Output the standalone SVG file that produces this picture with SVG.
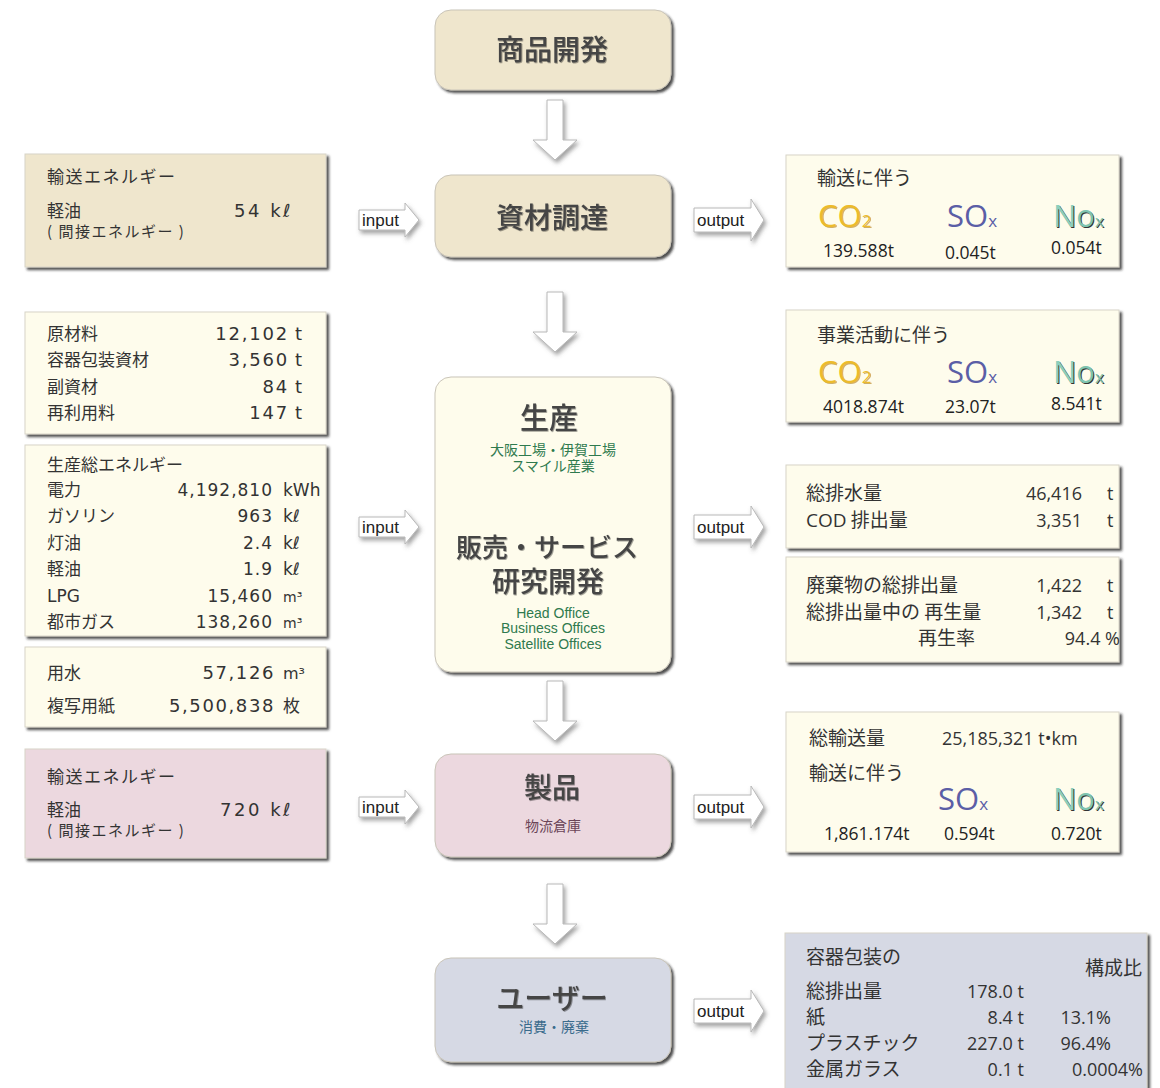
<svg xmlns="http://www.w3.org/2000/svg" xmlns:xlink="http://www.w3.org/1999/xlink" width="1160" height="1088" viewBox="0 0 1160 1088">
<defs>
<filter id="sh" x="-5%" y="-5%" width="115%" height="115%">
<feDropShadow dx="2.5" dy="2.5" stdDeviation="1.2" flood-color="#222" flood-opacity="0.8"/>
</filter>
<filter id="ash" x="-20%" y="-20%" width="150%" height="150%">
<feDropShadow dx="2" dy="3" stdDeviation="2" flood-color="#555" flood-opacity="0.55"/>
</filter>
<filter id="tsh" x="-10%" y="-10%" width="130%" height="130%">
<feDropShadow dx="0.8" dy="0.8" stdDeviation="0.6" flood-color="#000" flood-opacity="0.45"/>
</filter>
<path id="down" d="M-8,0 H8 V40 H22 L0,60 L-22,40 H-8 Z"/>
<path id="inArrow" d="M0,-10 H46 V-17 L60,0 L46,17 V10 H0 Z"/>
<path id="outArrow" d="M0,-12 H57 V-21 L70,0 L57,21 V12 H0 Z"/>
</defs>
<style>
.node{stroke:#c9c4b8;stroke-width:1;filter:url(#sh)}
.box{stroke:#d8d4c8;stroke-width:1;filter:url(#sh)}
.beige{fill:#efe6cd}
.cream{fill:#fefcec}
.pink{fill:#ecd8df}
.lav{fill:#d6d9e4}
.arrow{fill:#fff;stroke:#b8b8b8;stroke-width:1;filter:url(#ash)}
.title{font-family:"Noto Sans CJK JP",sans-serif;font-weight:500;fill:#454545;text-anchor:middle;filter:url(#tsh)}
.sub{font-family:"Noto Sans CJK JP","Liberation Sans",sans-serif;font-size:14px;text-anchor:middle}
.en{font-family:"Liberation Sans",Arial,sans-serif;font-size:14px;fill:#2f7a4e;text-anchor:middle}
.lj{font-family:"Noto Sans CJK JP",sans-serif;font-size:17px;fill:#333}
.ln{font-family:"DejaVu Sans","Noto Sans CJK JP",sans-serif;font-size:17px;fill:#333;letter-spacing:1px}
.rj{font-family:"Noto Sans CJK JP",sans-serif;font-size:19px;fill:#333}
.rn{font-family:"Open Sans","Noto Sans CJK JP",sans-serif;font-size:18px;fill:#333}
.rv{font-family:"Open Sans",sans-serif;font-size:17.5px;fill:#222}
.chem{font-family:"Open Sans",sans-serif;font-size:31px}
.lbl{font-family:"Liberation Sans",Arial,sans-serif;font-size:17px;fill:#222}
</style>

<g id="connectors">
<use href="#down" class="arrow" transform="translate(555,100)"/>
<use href="#down" class="arrow" transform="translate(555,292)"/>
<use href="#down" class="arrow" transform="translate(555,681)"/>
<use href="#down" class="arrow" transform="translate(555,884)"/>
<g id="in1"><use href="#inArrow" class="arrow" transform="translate(359,220)"/><text class="lbl" x="362" y="226">input</text></g>
<g id="in2"><use href="#inArrow" class="arrow" transform="translate(359,527)"/><text class="lbl" x="362" y="533">input</text></g>
<g id="in3"><use href="#inArrow" class="arrow" transform="translate(359,807)"/><text class="lbl" x="362" y="813">input</text></g>
<g id="out1"><use href="#outArrow" class="arrow" transform="translate(694,220)"/><text class="lbl" x="697" y="226">output</text></g>
<g id="out2"><use href="#outArrow" class="arrow" transform="translate(694,527)"/><text class="lbl" x="697" y="533">output</text></g>
<g id="out3"><use href="#outArrow" class="arrow" transform="translate(694,807)"/><text class="lbl" x="697" y="813">output</text></g>
<g id="out4"><use href="#outArrow" class="arrow" transform="translate(694,1011)"/><text class="lbl" x="697" y="1017">output</text></g>
</g>

<!-- center nodes -->
<g id="node-shohin">
<rect class="node beige" x="435" y="10" width="236" height="80" rx="16"/>
<text class="title" x="552" y="60" font-size="28">商品開発</text>
</g>
<g id="node-shizai">
<rect class="node beige" x="435" y="175" width="236" height="82" rx="16"/>
<text class="title" x="552" y="228" font-size="28">資材調達</text>
</g>
<g id="node-seisan">
<rect class="node cream" x="435" y="377" width="236" height="295" rx="16"/>
<text class="title" x="549" y="429" font-size="29">生産</text>
<text class="sub" fill="#2f7a4e"><tspan x="553" y="455">大阪工場・伊賀工場</tspan><tspan x="553" y="471">スマイル産業</tspan></text>
<text class="title" font-size="27"><tspan x="547" y="557" font-size="26">販売・サービス</tspan><tspan x="548" y="592" font-size="28">研究開発</tspan></text>
<text class="en"><tspan x="553" y="618">Head Office</tspan><tspan x="553" y="633">Business Offices</tspan><tspan x="553" y="649">Satellite Offices</tspan></text>
</g>
<g id="node-seihin">
<rect class="node pink" x="435" y="754" width="236" height="103" rx="16"/>
<text class="title" x="552" y="798" font-size="28">製品</text>
<text class="sub" x="553" y="831" fill="#6a4457">物流倉庫</text>
</g>
<g id="node-user">
<rect class="node lav" x="435" y="958" width="236" height="104" rx="16"/>
<text class="title" x="552" y="1009" font-size="28">ユーザー</text>
<text class="sub" x="554" y="1032" fill="#3a6b8c">消費・廃棄</text>
</g>

<!-- left input boxes -->
<g id="in-transport1">
<rect class="box beige" x="25" y="154" width="301" height="113"/>
<text class="lj" x="47" y="183" letter-spacing="1.5">輸送エネルギー</text>
<text class="lj"><tspan x="47" y="217">軽油</tspan><tspan x="47" y="237" style="font-size:15px;letter-spacing:1.5px">( 間接エネルギー )</tspan></text>
<text class="ln" x="293" y="217" style="font-size:18px;letter-spacing:2.5px" text-anchor="end">54 kℓ</text>
</g>
<g id="in-materials">
<rect class="box cream" x="25" y="312" width="301" height="122"/>
<text class="lj" x="47" y="340">原材料</text>
<text class="lj" x="47" y="366">容器包装資材</text>
<text class="lj" x="47" y="393">副資材</text>
<text class="lj" x="47" y="419">再利用料</text>
<g class="ln" style="font-size:18px;letter-spacing:1.8px" text-anchor="end">
<text x="289" y="340">12,102</text>
<text x="289" y="366">3,560</text>
<text x="289" y="393">84</text>
<text x="289" y="419">147</text>
</g>
<g class="ln" style="font-size:18px"><text x="295" y="340">t</text><text x="295" y="366">t</text><text x="295" y="393">t</text><text x="295" y="419">t</text></g>
</g>
<g id="in-energy">
<rect class="box cream" x="25" y="445" width="301" height="191"/>
<text class="lj" x="47" y="471">生産総エネルギー</text>
<text class="lj" x="47" y="496">電力</text>
<text class="lj" x="47" y="522">ガソリン</text>
<text class="lj" x="47" y="549">灯油</text>
<text class="lj" x="47" y="575">軽油</text>
<text class="ln" x="47" y="602" style="letter-spacing:0">LPG</text>
<text class="lj" x="47" y="628">都市ガス</text>
<g class="ln" text-anchor="end">
<text x="273" y="496">4,192,810</text>
<text x="273" y="522">963</text>
<text x="273" y="549">2.4</text>
<text x="273" y="575">1.9</text>
<text x="273" y="602">15,460</text>
<text x="273" y="628">138,260</text>
</g>
<g class="ln" style="letter-spacing:0">
<text x="283" y="496">kWh</text>
<text x="283" y="522">kℓ</text>
<text x="283" y="549">kℓ</text>
<text x="283" y="575">kℓ</text>
<text x="283" y="602" style="font-size:14px">m³</text>
<text x="283" y="628" style="font-size:14px">m³</text>
</g>
</g>
<g id="in-water">
<rect class="box cream" x="25" y="647" width="301" height="80"/>
<text class="lj" x="47" y="679">用水</text>
<text class="lj" x="47" y="712">複写用紙</text>
<g class="ln" style="font-size:18px;letter-spacing:1.6px" text-anchor="end">
<text x="275" y="679">57,126</text>
<text x="275" y="712">5,500,838</text>
</g>
<text class="ln" x="283" y="679" style="font-size:16px;letter-spacing:0">m³</text>
<text class="lj" x="283" y="712">枚</text>
</g>
<g id="in-transport2">
<rect class="box pink" x="25" y="749" width="301" height="109"/>
<text class="lj" x="47" y="783" letter-spacing="1.5">輸送エネルギー</text>
<text class="lj"><tspan x="47" y="816">軽油</tspan><tspan x="47" y="836" style="font-size:15px;letter-spacing:1.5px">( 間接エネルギー )</tspan></text>
<text class="ln" x="293" y="816" style="font-size:18px;letter-spacing:2.5px" text-anchor="end">720 kℓ</text>
</g>

<!-- right output boxes -->
<g id="out-transport">
<rect class="box cream" x="786" y="155" width="333" height="112"/>
<text class="rj" x="817" y="185">輸送に伴う</text>
<text class="chem" x="819" y="228" fill="#b07c10" opacity="0.6">CO<tspan font-size="17">2</tspan></text>
<text class="chem" x="818" y="227" fill="#ecbb2c">CO<tspan font-size="17">2</tspan></text>
<text class="chem" x="947" y="227" fill="#5b5ea6">SO<tspan font-size="17">x</tspan></text>
<text class="chem" x="1054" y="228" fill="#333">N<tspan fill="#333">o</tspan><tspan font-size="17" fill="#333">x</tspan></text>
<text class="chem" x="1053" y="227" fill="#8ccfbd">N<tspan fill="#7fc4b0">o</tspan><tspan font-size="17" fill="#7fc4b0">x</tspan></text>
<text class="rv" x="823" y="257">139.588t</text>
<text class="rv" x="945" y="259">0.045t</text>
<text class="rv" x="1051" y="254">0.054t</text>
</g>
<g id="out-business">
<rect class="box cream" x="786" y="310" width="333" height="112"/>
<text class="rj" x="817" y="342">事業活動に伴う</text>
<text class="chem" x="819" y="384" fill="#b07c10" opacity="0.6">CO<tspan font-size="17">2</tspan></text>
<text class="chem" x="818" y="383" fill="#ecbb2c">CO<tspan font-size="17">2</tspan></text>
<text class="chem" x="947" y="383" fill="#5b5ea6">SO<tspan font-size="17">x</tspan></text>
<text class="chem" x="1054" y="384" fill="#333">N<tspan>o</tspan><tspan font-size="17">x</tspan></text>
<text class="chem" x="1053" y="383" fill="#8ccfbd">N<tspan fill="#7fc4b0">o</tspan><tspan font-size="17" fill="#7fc4b0">x</tspan></text>
<text class="rv" x="823" y="413">4018.874t</text>
<text class="rv" x="945" y="413">23.07t</text>
<text class="rv" x="1051" y="410">8.541t</text>
</g>
<g id="out-drain">
<rect class="box cream" x="786" y="465" width="333" height="83"/>
<text class="rj" x="806" y="500">総排水量</text>
<text class="rj" x="806" y="527"><tspan font-family="Open Sans, sans-serif">COD</tspan> 排出量</text>
<g class="rn" text-anchor="end"><text x="1082" y="500">46,416</text><text x="1082" y="527">3,351</text></g>
<g class="rn"><text x="1107" y="500">t</text><text x="1107" y="527">t</text></g>
</g>
<g id="out-waste">
<rect class="box cream" x="786" y="557" width="333" height="105"/>
<text class="rj" x="806" y="592">廃棄物の総排出量</text>
<text class="rj" x="806" y="619">総排出量中の 再生量</text>
<text class="rj" x="918" y="645">再生率</text>
<g class="rn" text-anchor="end"><text x="1082" y="592">1,422</text><text x="1082" y="619">1,342</text><text x="1120" y="645">94.4 %</text></g>
<g class="rn"><text x="1107" y="592">t</text><text x="1107" y="619">t</text></g>
</g>
<g id="out-logistics">
<rect class="box cream" x="786" y="712" width="333" height="140"/>
<text class="rj" x="809" y="745">総輸送量</text>
<text class="rn" x="942" y="745">25,185,321 t•km</text>
<text class="rj" x="809" y="780">輸送に伴う</text>
<text class="chem" x="938" y="810" fill="#5b5ea6">SO<tspan font-size="17">x</tspan></text>
<text class="chem" x="1054" y="811" fill="#333">N<tspan>o</tspan><tspan font-size="17">x</tspan></text>
<text class="chem" x="1053" y="810" fill="#8ccfbd">N<tspan fill="#7fc4b0">o</tspan><tspan font-size="17" fill="#7fc4b0">x</tspan></text>
<text class="rv" x="824" y="840">1,861.174t</text>
<text class="rv" x="944" y="840">0.594t</text>
<text class="rv" x="1051" y="840">0.720t</text>
</g>
<g id="out-packaging">
<rect class="box lav" x="785" y="933" width="362" height="170"/>
<text class="rj" x="806" y="964">容器包装の</text>
<text class="rj" x="1085" y="975">構成比</text>
<text class="rj" x="806" y="998">総排出量</text>
<text class="rj" x="806" y="1024">紙</text>
<text class="rj" x="806" y="1050">プラスチック</text>
<text class="rj" x="806" y="1076">金属ガラス</text>
<g class="rn" text-anchor="end">
<text x="1024" y="998">178.0 t</text>
<text x="1024" y="1024">8.4 t</text>
<text x="1024" y="1050">227.0 t</text>
<text x="1024" y="1076">0.1 t</text>
<text x="1111" y="1024">13.1%</text>
<text x="1111" y="1050">96.4%</text>
<text x="1143" y="1076">0.0004%</text>
</g>
</g>
</svg>
